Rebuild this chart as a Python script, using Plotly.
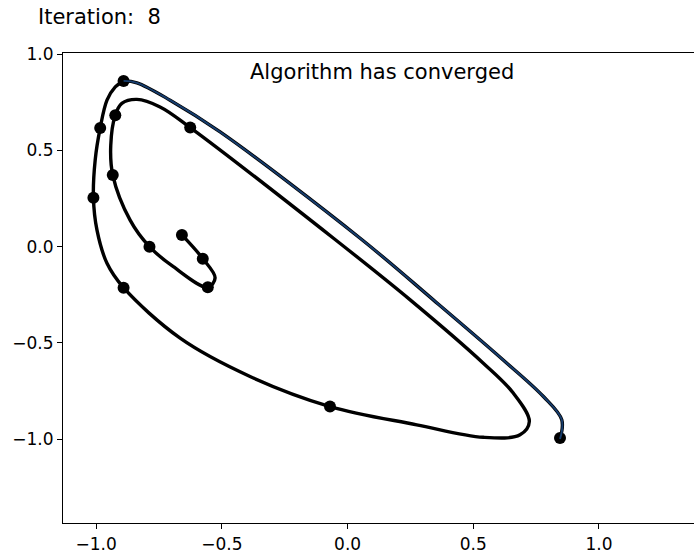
import plotly.graph_objects as go

# Trajectory traced by the solver (waypoints along the drawn curve)
path_x = [-0.659, -0.576, -0.527, -0.556, -0.693, -0.788, -0.865, -0.934, -0.942, -0.924,
          -0.898, -0.838, -0.746, -0.626, -0.056, 0.249, 0.540, 0.659, 0.723, 0.686,
          0.540, 0.275, -0.070, -0.388, -0.666, -0.891, -0.957, -0.997, -1.011, -1.004,
          -0.984, -0.957, -0.924, -0.891]
path_y = [0.061, -0.062, -0.162, -0.211, -0.104, 0.000, 0.138, 0.372, 0.527, 0.683,
          0.744, 0.765, 0.726, 0.619, 0.044, -0.276, -0.605, -0.760, -0.908, -0.977,
          -0.990, -0.925, -0.830, -0.674, -0.475, -0.213, -0.086, 0.087, 0.254, 0.450,
          0.617, 0.761, 0.830, 0.861]

# Final step of the current iteration
last_x = [-0.891, -0.838, -0.706, -0.507, 0.050, 0.341, 0.619, 0.779, 0.852, 0.845]
last_y = [0.861, 0.851, 0.761, 0.596, 0.044, -0.276, -0.588, -0.778, -0.899, -0.999]

# Iterates
pts_x = [-0.659, -0.576, -0.556, -0.788, -0.934, -0.924, -0.626, -0.070, -0.891, -1.011,
         -0.984, -0.891, 0.845]
pts_y = [0.061, -0.062, -0.211, 0.000, 0.372, 0.683, 0.619, -0.830, -0.213, 0.254,
         0.617, 0.861, -0.994]

x_ticks = [-1.0, -0.5, 0.0, 0.5, 1.0]
y_ticks = [-1.0, -0.5, 0.0, 0.5, 1.0]

iteration = 8
status = "Algorithm has converged"

FONT = "DejaVu Sans"
NAVY = "#163d6e"

fig = go.Figure()
fig.add_trace(go.Scatter(x=path_x, y=path_y, mode="lines",
                         line=dict(color="black", width=3.4, shape="spline", smoothing=1.0),
                         hoverinfo="skip"))
fig.add_trace(go.Scatter(x=last_x, y=last_y, mode="lines",
                         line=dict(color="black", width=3.4, shape="spline", smoothing=1.0),
                         hoverinfo="skip"))
fig.add_trace(go.Scatter(x=pts_x, y=pts_y, mode="markers",
                         marker=dict(color="black", size=12, line=dict(width=0))))
fig.add_trace(go.Scatter(x=last_x, y=last_y, mode="lines",
                         line=dict(color=NAVY, width=1.9, shape="spline", smoothing=1.0),
                         hoverinfo="skip"))

axis_common = dict(showgrid=False, zeroline=False, showline=True, linecolor="black",
                   linewidth=1.2, ticks="outside", ticklen=5, tickwidth=1.2,
                   tickcolor="black", tickformat=".1f",
                   tickfont=dict(family=FONT, size=17, color="black"))

fig.update_layout(
    width=694, height=554,
    margin=dict(l=63, r=0, t=53, b=31),
    paper_bgcolor="white", plot_bgcolor="white",
    showlegend=False,
    xaxis=dict(range=[-1.132, 1.378], tickvals=x_ticks, mirror=True, **axis_common),
    yaxis=dict(range=[-1.435, 1.006], tickvals=y_ticks, **axis_common),
    annotations=[
        dict(text=f"Iteration: \u00a0{iteration}", xref="paper", yref="paper",
             x=-0.0423, y=1.076, xanchor="left", yanchor="middle", showarrow=False,
             font=dict(family=FONT, size=21, color="black")),
        dict(text=status, xref="paper", yref="paper",
             x=0.505, y=0.959, xanchor="center", yanchor="middle", showarrow=False,
             font=dict(family=FONT, size=21, color="black")),
    ],
)

fig.write_html("out.html")
